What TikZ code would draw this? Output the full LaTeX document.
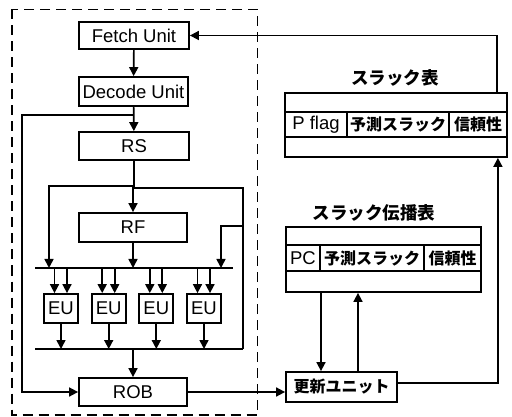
\documentclass[tikz,border=0pt]{standalone}
\usepackage{fontspec}
\setmainfont{Liberation Sans}
\newfontfamily\jp{Noto Sans CJK JP}
\usetikzlibrary{arrows.meta,calc}
\begin{document}
\begin{tikzpicture}[x=1pt,y=-1pt,
  lat/.style={font=\fontsize{18.5}{20}\selectfont},
  jpt/.style={font=\jp\bfseries\fontsize{16}{18}\selectfont},
  jtitle/.style={font=\jp\bfseries\fontsize{17.5}{19}\selectfont},
  box/.style={draw,line width=1.8pt,inner sep=0pt,lat},
  arr/.style={line width=1.7pt,-{Triangle[length=9pt,width=9pt]}},
  ln/.style={line width=1.7pt},
  frame/.style={line width=1.7pt,dash pattern=on 10pt off 6pt}]
\useasboundingbox (0,0) rectangle (512,417);
\fill[white] (0,0) rectangle (512,417);
% dashed frame
\draw[frame] (12,9.5) rectangle (257.5,415);
% units
\node[box,minimum width=110pt,minimum height=27pt] (fetch) at (134,35.5) {Fetch Unit};
\node[box,minimum width=109pt,minimum height=29pt] (decode) at (133.5,91.5) {Decode Unit};
\node[box,minimum width=110pt,minimum height=28pt] (rs) at (134,146) {RS};
\node[box,minimum width=108pt,minimum height=29pt] (rf) at (133,227.5) {RF};
\node[box,minimum width=108pt,minimum height=28pt] (rob) at (133,392) {ROB};
\foreach \i/\x in {1/61,2/108.7,3/156.3,4/204}{
  \node[box,minimum width=34pt,minimum height=29pt] (eu\i) at (\x,308.5) {EU};
}
% buses
\coordinate (tbL) at (35,268);
\coordinate (tbR) at (233,268);
\coordinate (bbL) at (35,349);
\coordinate (bbR) at (243,349);
\draw[ln] (tbL) -- (tbR);
\draw[ln] (bbL) -- (bbR);
% connectors
\draw[arr] (fetch) -- (decode);
\draw[arr] (decode) -- (rs);
\coordinate (j1) at ($(decode.south)+(0,8)$);
\draw[arr] (j1) -| ([xshift=-56pt]rob.west) -- (rob.west);
\draw[arr] (rs.south) -- ++(0,25) -| (tbL -| 49,0);
\draw[arr] (bbR) -- (243,188) -| (rf.north);
\draw[arr] (243,226) -| (tbR -| 221,0);
\draw[arr] (rf.south) -- (rf.south |- tbL);
\foreach \i in {1,2,3,4}{
  \draw[arr] ([xshift=-6.5pt]eu\i.north |- tbL) -- ([xshift=-6.5pt]eu\i.north);
  \draw[arr] ([xshift=6pt]eu\i.north |- tbL) -- ([xshift=6pt]eu\i.north);
  \draw[arr] (eu\i.south) -- (eu\i.south |- bbL);
}
\draw[arr] (rob.north |- bbL) -- (rob.north);
% right side
\node[box,jpt,minimum width=111pt,minimum height=30pt] (upd) at (341.5,387) {更新ユニット};
% slack table
\node[draw,line width=1.8pt,minimum width=222pt,minimum height=64pt,inner sep=0pt] (st) at (396,125) {};
\draw[line width=1.5pt] (285,112) -- (507,112) (285,137) -- (507,137) (347,112) -- (347,137) (449,112) -- (449,137);
\node[lat] (stc1) at (316,124.5) {P flag};
\node[jpt] (stc2) at (398,124.5) {予測スラック};
\node[jpt] (stc3) at (478,124.5) {信頼性};
\node[jtitle] (stt) at (395,78) {スラック表};
% propagation table
\node[draw,line width=1.8pt,minimum width=195pt,minimum height=65pt,inner sep=0pt] (pt) at (383.5,259.5) {};
\draw[line width=1.5pt] (286,245) -- (481,245) (286,271) -- (481,271) (320,245) -- (320,271) (424,245) -- (424,271);
\node[lat] (ptc1) at (303,258) {PC};
\node[jpt] (ptc2) at (372,258) {予測スラック};
\node[jpt] (ptc3) at (452.5,258) {信頼性};
\node[jtitle] (ptt) at (374,213) {スラック伝播表};
% right connectors
\draw[arr] (rob.east) -- (rob.east -| upd.west);
\draw[arr] ([yshift=4pt]upd.east) -| ([xshift=-10pt]st.south east);
\draw[arr] ([xshift=-11pt]st.north east) |- (fetch.east);
\draw[arr] (pt.south -| 321,0) -- (upd.north -| 321,0);
\draw[arr] (upd.north -| 358,0) -- (pt.south -| 358,0);
\end{tikzpicture}
\end{document}
